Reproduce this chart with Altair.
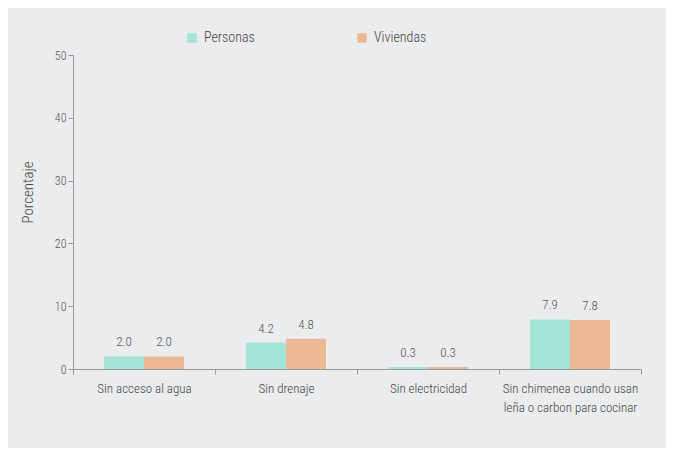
import altair as alt
import pandas as pd

categories = [
    "Sin acceso al agua",
    "Sin drenaje",
    "Sin electricidad",
    "Sin chimenea cuando usan\nleña o carbon para cocinar",
]
series = ["Personas", "Viviendas"]
personas = [2.0, 4.2, 0.3, 7.9]
viviendas = [2.0, 4.8, 0.3, 7.8]
colors = ["#a4e4d6", "#edb995"]

rows = []
for c, p, v in zip(categories, personas, viviendas):
    rows.append({"cat": c, "serie": "Personas", "val": p})
    rows.append({"cat": c, "serie": "Viviendas", "val": v})
df = pd.DataFrame(rows)

FONT = "Roboto Condensed, Liberation Sans Narrow, Roboto, sans-serif"
W = 300

base = alt.Chart(df).encode(
    x=alt.X(
        "cat:N",
        sort=categories,
        scale=alt.Scale(paddingInner=0, paddingOuter=0),
        axis=alt.Axis(
            title=None,
            labelAngle=0,
            labelExpr="split(datum.label, '\\n')",
            labelFontSize=13,
            labelFontWeight=W,
            labelColor="#444444",
            labelPadding=8,
            labelLineHeight=19,
            tickBand="extent",
            tickSize=5,
            tickColor="#999999",
            domainColor="#999999",
            labelBaseline="top",
        ),
    ),
    xOffset=alt.XOffset(
        "serie:N", sort=series, scale=alt.Scale(paddingInner=0, paddingOuter=0.775)
    ),
)

bars = base.mark_bar().encode(
    y=alt.Y(
        "val:Q",
        scale=alt.Scale(domain=[0, 50]),
        axis=alt.Axis(
            title="Porcentaje",
            values=[0, 10, 20, 30, 40, 50],
            grid=False,
            labelFontSize=12,
            labelFontWeight=W,
            labelColor="#555555",
            tickSize=5,
            tickColor="#999999",
            domainColor="#999999",
            titleFontSize=15,
            titleFontWeight=W,
            titleColor="#444444",
            titleX=-46,
            titleY=137,
            titleAlign="center",
            titleBaseline="middle",
            titleAngle=270,
        ),
    ),
    color=alt.Color(
        "serie:N",
        sort=series,
        scale=alt.Scale(domain=series, range=colors),
        legend=alt.Legend(
            title=None,
            orient="none",
            legendX=112,
            legendY=-24,
            direction="horizontal",
            symbolType="square",
            symbolSize=90,
            symbolStrokeWidth=0,
            labelFontSize=14,
            labelFontWeight=W,
            labelColor="#444444",
            columnPadding=100,
            labelOffset=5,
        ),
    ),
)

labels = base.mark_text(
    baseline="bottom", dy=-7, fontSize=13, fontWeight=W, color="#555555"
).encode(
    y=alt.Y("val:Q"),
    text=alt.Text("val:Q", format=".1f"),
)

chart = (
    alt.layer(bars, labels)
    .properties(
        width=568,
        height=314,
        background="#ebeced",
        padding={"left": 65, "top": 47, "right": 25, "bottom": 79},
        autosize=alt.AutoSizeParams(type="none"),
    )
    .configure(font=FONT)
    .configure_view(stroke=None)
)

chart.save("out.html", embed_options={"renderer": "svg", "actions": False})
